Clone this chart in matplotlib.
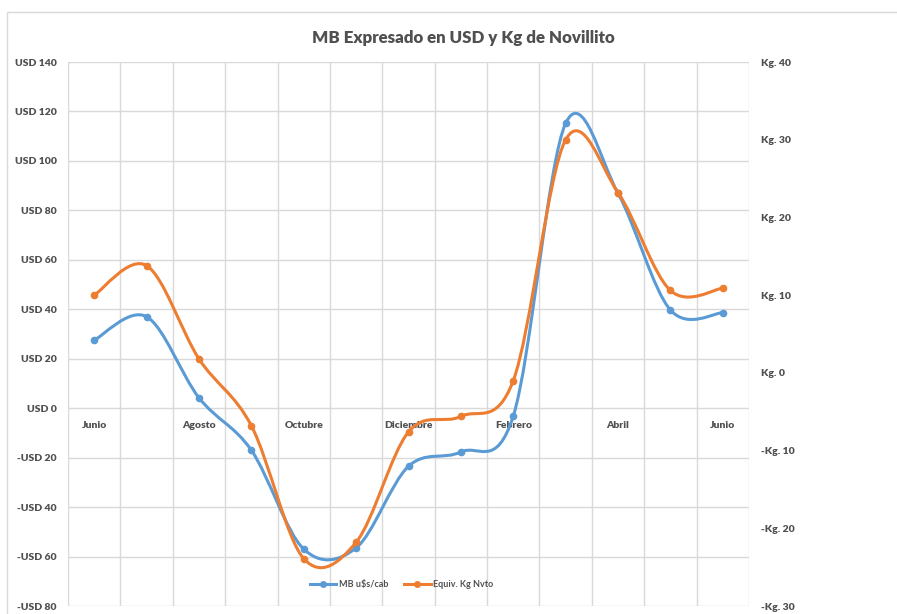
import numpy as np
import matplotlib.pyplot as plt
from matplotlib.path import Path
from matplotlib.patches import PathPatch, Rectangle
from matplotlib.lines import Line2D

meses = ["Junio", "Julio", "Agosto", "Septiembre", "Octubre", "Noviembre", "Diciembre",
         "Enero", "Febrero", "Marzo", "Abril", "Mayo", "Junio"]
mb_usd = [27.5, 37.0, 4.2, -17.0, -57.0, -56.5, -23.5, -17.7, -3.2, 115.2, 86.9, 39.7, 38.6]
equiv_kg = [10.0, 13.8, 1.8, -6.8, -23.9, -21.8, -7.6, -5.6, -1.0, 30.0, 23.2, 10.6, 10.9]

usd_ticks = list(range(-80, 141, 20))
kg_ticks = list(range(-30, 41, 10))

AZUL = "#5B9BD5"
NARANJA = "#ED7D31"
GRIS = "#505050"
GRID = "#D9D9D9"

plt.rcParams['font.family'] = ['Lato', 'DejaVu Sans']


def smooth_path(x, y):
    # curva suavizada tipo Excel (Catmull-Rom -> Bezier)
    p = np.column_stack([x, y]).astype(float)
    pp = np.vstack([p[0], p, p[-1]])
    verts = [p[0]]
    codes = [Path.MOVETO]
    for i in range(1, len(pp) - 2):
        p0, p1, p2, p3 = pp[i - 1], pp[i], pp[i + 1], pp[i + 2]
        verts += [p1 + (p2 - p0) / 6, p2 - (p3 - p1) / 6, p2]
        codes += [Path.CURVE4] * 3
    return Path(verts, codes)


fig = plt.figure(figsize=(8.97, 6.14), dpi=100)
fig.patches.append(Rectangle((7 / 897, -0.1), 1.2, 1 - 12 / 614 + 0.1, transform=fig.transFigure,
                             fill=False, edgecolor=GRID, linewidth=1))
ax = fig.add_axes([68 / 897, 1 - 606 / 614, 681 / 897, 544 / 614])
ax2 = ax.twinx()

x = np.arange(len(meses))
ax.set_xlim(-0.5, len(meses) - 0.5)
ax.set_ylim(-80, 140)
ax2.set_ylim(-30, 40)

ax.set_yticks(usd_ticks)
ax.set_yticklabels([("-USD %d" % -v) if v < 0 else ("USD %d" % v) for v in usd_ticks])
ax2.set_yticks(kg_ticks)
ax2.set_yticklabels([("-Kg. %d" % -v) if v < 0 else ("Kg. %d" % v) for v in kg_ticks])

ax.set_xticks(x[::2])
ax.set_xticklabels(meses[::2])
ax.set_xticks(np.arange(-0.5, len(meses)), minor=True)
ax.spines['bottom'].set_position(('data', 0))
for a in (ax, ax2):
    for s in a.spines.values():
        s.set_visible(False)

ax.tick_params(axis='x', which='both', length=0, pad=9, labelsize=7.5, labelcolor=GRIS)
ax.tick_params(axis='y', length=0, pad=8, labelsize=7.5, labelcolor=GRIS)
ax2.tick_params(axis='y', length=0, pad=9, labelsize=7.5, labelcolor=GRIS)
for lbl in ax.get_xticklabels() + ax.get_yticklabels() + ax2.get_yticklabels():
    lbl.set_fontweight(800)

ax.grid(axis='y', color=GRID, linewidth=1)
ax.grid(axis='x', which='minor', color=GRID, linewidth=1)
ax.set_axisbelow(True)

ax.add_patch(PathPatch(smooth_path(x, mb_usd), fill=False, edgecolor=AZUL, linewidth=2.2, zorder=3))
ax.plot(x, mb_usd, 'o', color=AZUL, markersize=4.5, zorder=4)
ax2.add_patch(PathPatch(smooth_path(x, equiv_kg), fill=False, edgecolor=NARANJA, linewidth=2.2, zorder=3))
ax2.plot(x, equiv_kg, 'o', color=NARANJA, markersize=4.5, zorder=4)

handles = [Line2D([], [], color=AZUL, lw=2.2, marker='o', markersize=4),
           Line2D([], [], color=NARANJA, lw=2.2, marker='o', markersize=4)]
ax2.legend(handles, [r"MB u\$s/cab", "Equiv. Kg Nvto"], loc='center', bbox_to_anchor=(0.49, 0.039),
           ncol=2, frameon=False, prop={'size': 6.5, 'weight': 'bold'}, handlelength=2.9,
           handletextpad=0.3, columnspacing=1.8, labelcolor=GRIS)

fig.text(463 / 897, 1 - 38 / 614, "MB Expresado en USD y Kg de Novillito", ha='center', va='center',
         fontsize=12.2, fontweight=800, color=GRIS)

fig.savefig("out.png", dpi=100)
